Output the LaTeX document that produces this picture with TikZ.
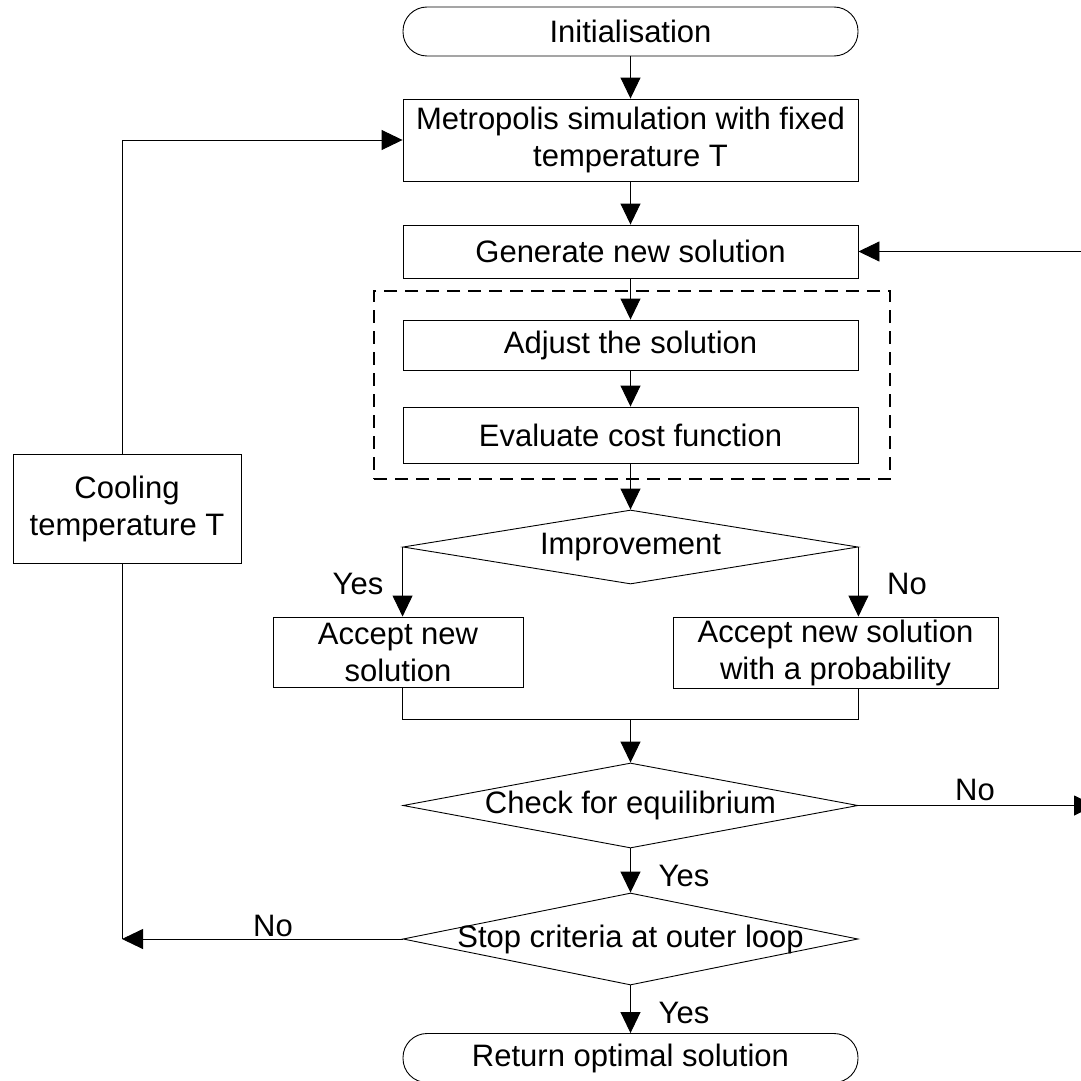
\documentclass[tikz,border=0pt]{standalone}
\usepackage{fontspec}
\setmainfont{Liberation Sans}
\usetikzlibrary{shapes.geometric,arrows.meta}

\begin{document}
\begin{tikzpicture}[x=1pt,y=-1pt,
  every node/.style={font=\fontsize{31}{37}\selectfont, inner sep=0pt, align=center},
  box/.style={draw, line width=0.9pt, rectangle, minimum width=455pt},
  terminal/.style={draw, line width=0.9pt, rectangle, rounded corners=24pt,
                   minimum width=455pt, minimum height=49pt},
  decision/.style={draw, line width=0.9pt, diamond, minimum width=455pt},
  grp/.style={draw, line width=2pt, dash pattern=on 13pt off 8pt, rectangle},
  arr/.style={line width=0.9pt, -{Triangle[length=21pt,width=20pt]}},
  link/.style={line width=0.9pt}
]
\useasboundingbox (0,0) rectangle (1081,1081);

% main column
\node[terminal] (init) at (630.5,31.5) {Initialisation};
\node[box, minimum height=82pt] (metro) at (630.5,140)
     {Metropolis simulation with fixed\\temperature T};
\node[box, minimum height=53pt] (gen) at (630.5,251.5) {Generate new solution};

% neighbourhood move and evaluation
\node[grp, minimum width=516pt, minimum height=188pt] (group) at (632,385) {};
\node[box, minimum height=50pt] (adjust) at (630.5,345) {Adjust the solution};
\node[box, minimum height=56pt] (eval) at (630.5,435) {Evaluate cost function};

% acceptance
\node[decision, minimum height=74pt, label=center:{Improvement}] (impr) at (630.5,547) {};
\node[box, minimum width=250pt, minimum height=70pt] (acc) at (398,652)
     {Accept new\\solution};
\node[box, minimum width=325pt, minimum height=71pt] (accp) at (835.5,652.5)
     {Accept new solution\\with a probability};

% loop checks
\node[decision, minimum height=85pt, label=center:{Check for equilibrium}] (check) at (630.5,805.5) {};
\node[decision, minimum height=92pt, label=center:{Stop criteria at outer loop}] (stop) at (630.5,939) {};
\node[terminal] (ret) at (630.5,1058) {Return optimal solution};

% cooling step on the outer loop
\node[box, minimum width=228pt, minimum height=109pt] (cool) at (127,508.5)
     {Cooling\\temperature T};

% branch labels
\node (yes1) at (358,584) {Yes};
\node (no1) at (907,584) {No};
\node (no2) at (975,790) {No};
\node (yes2) at (684,876) {Yes};
\node (no3) at (273,926) {No};
\node (yes3) at (684,1013) {Yes};

% helper points
\coordinate (join) at (630.5,719);
\coordinate (eqout) at (1095,805.5);
\coordinate (genin) at (1090,251.5);
\coordinate (loopB) at (122,939);

% connectors
\draw[arr] (init) -- (metro);
\draw[arr] (metro) -- (gen);
\draw[arr] (gen) -- (adjust);
\draw[arr] (adjust) -- (eval);
\draw[arr] (eval) -- (impr.north);
\draw[arr] (impr.west) -- (impr.west |- acc.north);
\draw[arr] (impr.east) -- (impr.east |- accp.north);
\draw[link] (impr.west |- acc.south) -- (impr.west |- join)
            -- (impr.east |- join) -- (impr.east |- accp.south);
\draw[arr] (join) -- (check.north);
\draw[arr] (check.east) -- (eqout);
\draw[arr] (genin) -- (gen.east);
\draw[arr] (check.south) -- (stop.north);
\draw[arr] (stop.south) -- (ret.north);
\draw[arr] (stop.west) -- (loopB);
\draw[link] (loopB) -- (loopB |- cool.south);
\draw[arr] (loopB |- cool.north) |- (metro.west);
\end{tikzpicture}
\end{document}
